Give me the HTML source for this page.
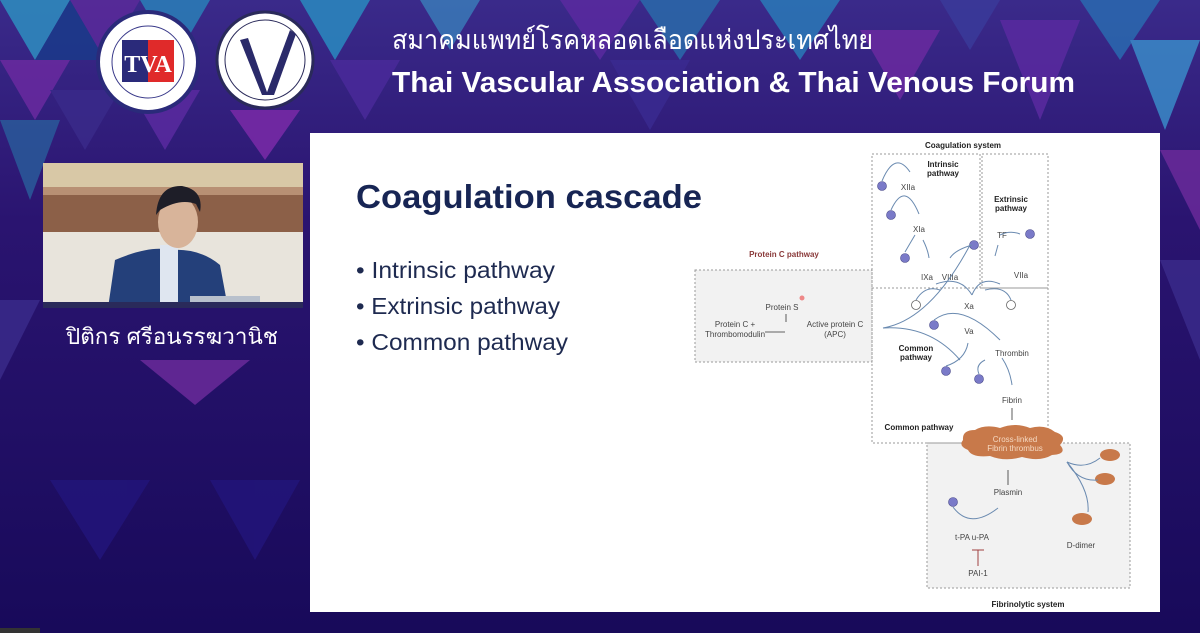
<!DOCTYPE html>
<html><head><meta charset="utf-8"><style>
html,body{margin:0;padding:0;width:1200px;height:633px;overflow:hidden;background:#1a0c5c;}
svg text{font-family:"Liberation Sans",sans-serif;}
</style></head><body>
<svg width="1200" height="633" viewBox="0 0 1200 633" xmlns="http://www.w3.org/2000/svg">
<defs>
<linearGradient id="bg" x1="0" y1="0" x2="0" y2="1">
<stop offset="0" stop-color="#3a2a8a"/><stop offset="0.35" stop-color="#2a1470"/><stop offset="1" stop-color="#180a5a"/>
</linearGradient>
</defs>
<rect width="1200" height="633" fill="url(#bg)"/>
<g opacity="0.85">
<polygon points="0,0 70,0 35,60" fill="#2e8ec0"/>
<polygon points="70,0 140,0 105,60" fill="#5a2a9a"/>
<polygon points="0,60 70,60 35,120" fill="#6a2aa0"/>
<polygon points="35,60 105,60 70,0" fill="#1a3a8a"/>
<polygon points="140,0 210,0 175,60" fill="#2a7fb8"/>
<polygon points="0,120 60,120 30,200" fill="#2a5a9a"/>
<polygon points="50,90 120,90 85,150" fill="#3a2a8a"/>
<polygon points="130,90 200,90 165,150" fill="#5a2aa0"/>
<polygon points="230,110 300,110 265,160" fill="#7a2aa8"/>
<polygon points="300,0 370,0 335,60" fill="#2a8ac0"/>
<polygon points="330,60 400,60 365,120" fill="#4a2a9a"/>
<polygon points="420,0 480,0 450,50" fill="#3a7ab8"/>
<polygon points="560,0 640,0 600,60" fill="#5a2aa0"/>
<polygon points="640,0 720,0 680,60" fill="#2a6aaa"/>
<polygon points="610,60 690,60 650,130" fill="#3a2a90"/>
<polygon points="760,0 840,0 800,60" fill="#2a7ab8"/>
<polygon points="860,30 940,30 900,100" fill="#6a2aa0"/>
<polygon points="940,0 1000,0 970,50" fill="#3a3a9a"/>
<polygon points="1000,20 1080,20 1040,120" fill="#5a2aa0"/>
<polygon points="1080,0 1160,0 1120,60" fill="#2a6ab0"/>
<polygon points="1130,40 1200,40 1165,130" fill="#3a8ac8"/>
<polygon points="1160,150 1200,150 1200,230" fill="#6a2a9a"/>
<polygon points="1160,260 1200,260 1200,360" fill="#3a2a8a"/>
<polygon points="0,300 40,300 0,380" fill="#3a2a8a"/>
<polygon points="140,360 250,360 195,405" fill="#6a2a9a"/>
<polygon points="50,480 150,480 100,560" fill="#22157a"/>
<polygon points="210,480 300,480 255,560" fill="#22157a"/>
</g>
<circle cx="148" cy="62" r="50" fill="#ffffff" stroke="#2a2a7a" stroke-width="4"/>
<circle cx="148" cy="62" r="36" fill="none" stroke="#3a3a8a" stroke-width="1"/>
<rect x="122" y="40" width="26" height="42" fill="#2a2a7a"/>
<rect x="148" y="40" width="26" height="42" fill="#e02a2a"/>
<text x="148" y="72" font-size="24" font-weight="bold" fill="#fff" text-anchor="middle" style="font-family:'Liberation Serif',serif">TVA</text>
<circle cx="265" cy="60" r="48" fill="#ffffff" stroke="#2a2a5a" stroke-width="3"/>
<circle cx="265" cy="60" r="40" fill="none" stroke="#2a2a5a" stroke-width="1"/>
<path d="M240 40 L262 95 L268 95 L248 38 Z" fill="#2a2a6a"/>
<path d="M290 30 L266 95 L274 95 L296 34 Z" fill="#2a2a6a"/>
<text x="392" y="49" font-size="27" fill="#fff" textLength="481" lengthAdjust="spacingAndGlyphs" style="font-family:'Liberation Sans','Noto Sans CJK SC',sans-serif">สมาคมแพทย์โรคหลอดเลือดแห่งประเทศไทย</text>
<text x="392" y="92" font-size="29" font-weight="bold" fill="#fff" textLength="683" lengthAdjust="spacingAndGlyphs">Thai Vascular Association &amp; Thai Venous Forum</text>
<rect x="43" y="163" width="260" height="145" fill="#e8e4dc"/>
<rect x="43" y="163" width="260" height="24" fill="#d8c8a6"/>
<rect x="43" y="187" width="260" height="45" fill="#8c6048"/>
<rect x="43" y="187" width="260" height="8" fill="#b89074"/>
<path d="M108 308 L115 260 Q150 245 170 250 Q200 248 220 265 L228 308 Z" fill="#24407a"/>
<rect x="160" y="245" width="18" height="60" fill="#dfe6f0"/>
<ellipse cx="178" cy="222" rx="20" ry="26" fill="#d8b49a"/>
<path d="M156 215 Q158 185 182 186 Q204 190 200 212 L196 204 Q180 198 160 210 Z" fill="#1e1e28"/>
<rect x="190" y="296" width="70" height="6" fill="#b8c0cc"/>
<rect x="43" y="302" width="260" height="6" fill="#2a2a5a"/>
<text x="172" y="344" font-size="22" fill="#fff" text-anchor="middle" textLength="212" lengthAdjust="spacingAndGlyphs" style="font-family:'Liberation Sans','Noto Sans CJK SC',sans-serif">ปิติกร ศรีอนรรฆวานิช</text>
<rect x="310" y="133" width="850" height="479" fill="#ffffff"/>
<text x="356" y="208" font-size="33" font-weight="bold" fill="#172554" textLength="346" lengthAdjust="spacingAndGlyphs">Coagulation cascade</text>
<g font-size="23" fill="#1e2a50">
<text x="356" y="278" textLength="199" lengthAdjust="spacingAndGlyphs">• Intrinsic pathway</text>
<text x="356" y="314" textLength="204" lengthAdjust="spacingAndGlyphs">• Extrinsic pathway</text>
<text x="356" y="350" textLength="212" lengthAdjust="spacingAndGlyphs">• Common pathway</text>
</g>
<g fill="none" stroke="#999" stroke-width="1" stroke-dasharray="2,2">
<rect x="695" y="270" width="177" height="92" fill="#f2f2f2"/>
<rect x="927" y="443" width="203" height="145" fill="#f2f2f2"/>
<rect x="872" y="154" width="108" height="134"/>
<rect x="982" y="154" width="66" height="134"/>
<rect x="872" y="288" width="176" height="155"/>
</g>
<g font-size="8" fill="#444" text-anchor="middle">
<text x="963" y="148" font-weight="bold" fill="#222">Coagulation system</text>
<text x="943" y="167" font-weight="bold" fill="#222">Intrinsic</text>
<text x="943" y="176" font-weight="bold" fill="#222">pathway</text>
<text x="1011" y="202" font-weight="bold" fill="#222">Extrinsic</text>
<text x="1011" y="211" font-weight="bold" fill="#222">pathway</text>
<text x="784" y="257" font-weight="bold" fill="#8a3a3a">Protein C pathway</text>
<text x="908" y="190">XIIa</text>
<text x="919" y="232">XIa</text>
<text x="927" y="280">IXa</text>
<text x="950" y="280">VIIIa</text>
<text x="1021" y="278">VIIa</text>
<text x="1002" y="238">TF</text>
<text x="969" y="309">Xa</text>
<text x="969" y="334">Va</text>
<text x="1012" y="356">Thrombin</text>
<text x="1012" y="403">Fibrin</text>
<text x="916" y="351" font-weight="bold" fill="#222">Common</text>
<text x="916" y="360" font-weight="bold" fill="#222">pathway</text>
<text x="919" y="430" font-weight="bold" fill="#222">Common pathway</text>
<text x="782" y="310">Protein S</text>
<text x="735" y="327">Protein C +</text>
<text x="735" y="337">Thrombomodulin</text>
<text x="835" y="327">Active protein C</text>
<text x="835" y="337">(APC)</text>
<text x="1008" y="495">Plasmin</text>
<text x="972" y="540">t-PA u-PA</text>
<text x="978" y="576">PAI-1</text>
<text x="1081" y="548">D-dimer</text>
<text x="1028" y="607" font-weight="bold" fill="#222">Fibrinolytic system</text>
</g>
<path d="M963 440 Q962 430 975 430 Q985 424 1000 428 Q1015 422 1030 428 Q1045 424 1055 432 Q1068 436 1060 445 Q1068 454 1052 455 Q1040 462 1022 457 Q1005 462 990 456 Q972 458 968 450 Q958 446 963 440 Z" fill="#c8794a"/>
<text x="1015" y="442" font-size="8" fill="#f5d8c0" text-anchor="middle">Cross-linked</text>
<text x="1015" y="451" font-size="8" fill="#f5d8c0" text-anchor="middle">Fibrin thrombus</text>
<g fill="#c8794a">
<ellipse cx="1110" cy="455" rx="10" ry="6"/>
<ellipse cx="1105" cy="479" rx="10" ry="6"/>
<ellipse cx="1082" cy="519" rx="10" ry="6"/>
</g>
<g fill="#7a7ac8" stroke="#4a4a8a" stroke-width="0.6">
<circle cx="882" cy="186" r="4.5"/><circle cx="891" cy="215" r="4.5"/><circle cx="905" cy="258" r="4.5"/>
<circle cx="974" cy="245" r="4.5"/><circle cx="1030" cy="234" r="4.5"/>
<circle cx="934" cy="325" r="4.5"/><circle cx="946" cy="371" r="4.5"/><circle cx="979" cy="379" r="4.5"/>
<circle cx="953" cy="502" r="4.5"/>
</g>
<g fill="#fff" stroke="#666" stroke-width="0.8">
<circle cx="916" cy="305" r="4.5"/><circle cx="1011" cy="305" r="4.5"/>
</g>
<g fill="none" stroke="#6a8ab0" stroke-width="1">
<path d="M882 181 Q895 150 910 172"/>
<path d="M891 210 Q905 180 919 214"/>
<path d="M905 252 Q912 240 915 235"/><path d="M923 240 Q928 250 929 258"/>
<path d="M972 245 Q955 250 950 258"/>
<path d="M1020 234 Q1010 230 1000 235"/><path d="M998 245 L995 256"/>
<path d="M936 284 Q960 275 972 295"/><path d="M1000 284 Q980 275 972 295"/>
<path d="M916 300 Q925 285 940 290"/><path d="M1011 300 Q1005 285 985 290"/>
<path d="M934 320 Q960 300 1000 340"/>
<path d="M946 366 Q965 360 968 343"/>
<path d="M979 374 Q975 365 985 360"/>
<path d="M1002 358 Q1010 370 1012 385"/>
<path d="M953 507 Q970 530 998 508"/>
<path d="M1067 462 Q1085 470 1100 458"/>
<path d="M1067 462 Q1078 482 1098 480"/>
<path d="M1067 462 Q1090 490 1088 512"/>
<path d="M883 328 Q930 320 970 245"/>
<path d="M883 328 Q930 325 960 360"/>
</g>
<g stroke="#333" stroke-width="0.8" fill="none">
<path d="M786 314 L786 322"/><path d="M765 332 L785 332"/>
<path d="M1012 408 L1012 420"/><path d="M1008 485 L1008 470"/>
</g>
<g stroke="#a04040" stroke-width="1"><path d="M978 550 L978 566"/><path d="M972 550 L984 550"/></g>
<circle cx="802" cy="298" r="2.5" fill="#e88"/>
<rect x="0" y="628" width="40" height="5" fill="#333"/>
</svg>
</body></html>
